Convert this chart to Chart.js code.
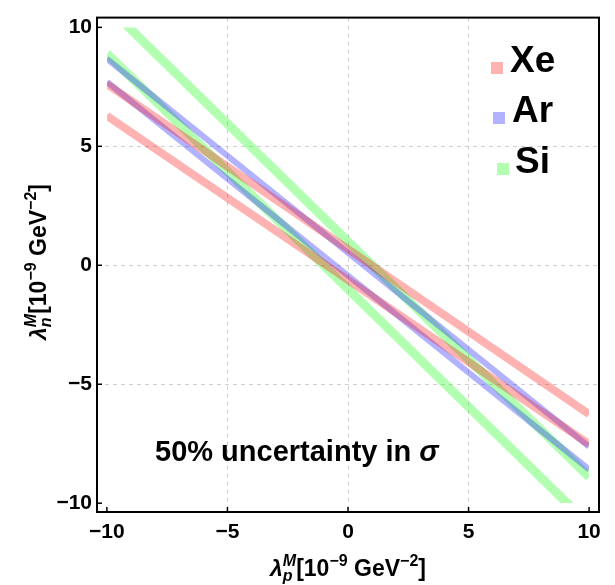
<!DOCTYPE html>
<html>
<head>
<meta charset="utf-8">
<script src="https://cdn.jsdelivr.net/npm/chart.js@4.4.1/dist/chart.umd.min.js"></script>
<style>
  html, body { margin: 0; padding: 0; background: #fff; }
  #wrap { width: 615px; height: 585px; }
</style>
</head>
<body>
<div id="wrap"><canvas id="c" width="615" height="585"></canvas></div>
<script>
// ---- data (lambda_n at lambda_p = -10 and +10) ----
const lambdaP = [-10, 10];
const xeUpper = [7.62, -6.26];
const xeLower = [6.28, -7.52];
const arUpper = [8.68, -7.62];
const arLower = [7.71, -8.58];
const siUpper = [10.9, -8.9];
const siLower = [8.9, -10.9];
const elements = ['Xe', 'Ar', 'Si'];
const tickValues = [-10, -5, 0, 5, 10];
const tickLabels = ['\u221210', '\u22125', '0', '5', '10'];
const annotationText = '50% uncertainty in ';
const annotationSymbol = '\u03C3';

const FONT = '"Liberation Sans", Arial, Helvetica, sans-serif';
const colors = {
  Xe: 'rgba(255,0,0,0.3)',
  Ar: 'rgba(0,0,255,0.3)',
  Si: 'rgba(0,255,0,0.3)'
};
const widths = { Xe: 8, Ar: 6, Si: 9 };

function pts(ys) { return lambdaP.map((x, i) => ({ x: x, y: ys[i] })); }
function band(el, ys) {
  return {
    label: el,
    data: pts(ys),
    borderColor: colors[el],
    backgroundColor: colors[el],
    borderWidth: widths[el],
    borderCapStyle: 'butt',
    pointRadius: 0,
    fill: false,
    tension: 0,
    clip: { left: -10, right: -10, top: -10, bottom: -9 }
  };
}

const datasets = [
  band('Xe', xeUpper), band('Xe', xeLower),
  band('Ar', arUpper), band('Ar', arLower),
  band('Si', siUpper), band('Si', siLower)
];

function drawRich(ctx, x, y, segs, size) {
  const sub = Math.round(size * 0.68);
  let total = 0;
  const m = segs.map(s => {
    if (s.stack) {
      ctx.font = `italic bold ${sub}px ${FONT}`;
      const w = Math.max(ctx.measureText(s.sup).width, ctx.measureText(s.sub).width);
      total += w; return w;
    }
    ctx.font = `${s.italic ? 'italic ' : ''}bold ${s.sup ? sub : size}px ${FONT}`;
    const w = ctx.measureText(s.t).width;
    total += w; return w;
  });
  let cx = x - total / 2;
  ctx.textBaseline = 'alphabetic';
  ctx.textAlign = 'left';
  segs.forEach((s, i) => {
    if (s.stack) {
      ctx.font = `italic bold ${sub}px ${FONT}`;
      ctx.fillText(s.sup, cx, y - size * 0.42);
      ctx.fillText(s.sub, cx, y + size * 0.22);
    } else {
      ctx.font = `${s.italic ? 'italic ' : ''}bold ${s.sup ? sub : size}px ${FONT}`;
      ctx.fillText(s.t, cx, s.sup ? y - size * 0.42 : y);
    }
    cx += m[i];
  });
}

const decor = {
  id: 'decor',
  afterDraw(chart) {
    const ctx = chart.ctx;
    const a = chart.chartArea;
    const xs = chart.scales.x, ys = chart.scales.y;
    ctx.save();
    ctx.strokeStyle = '#000';
    ctx.lineWidth = 2;
    ctx.strokeRect(a.left, a.top, a.right - a.left, a.bottom - a.top);
    ctx.lineWidth = 1.5;
    tickValues.forEach(v => {
      const px = xs.getPixelForValue(v);
      ctx.beginPath(); ctx.moveTo(px, a.bottom); ctx.lineTo(px, a.bottom - 5); ctx.stroke();
      const py = ys.getPixelForValue(v);
      ctx.beginPath(); ctx.moveTo(a.left, py); ctx.lineTo(a.left + 5, py); ctx.stroke();
    });
    const legPos = [
      { sx: 491, sy: 62, tx: 510, ty: 72 },
      { sx: 493, sy: 112, tx: 512, ty: 122 },
      { sx: 497, sy: 163, tx: 515, ty: 173 }
    ];
    elements.forEach((el, i) => {
      const p = legPos[i];
      ctx.fillStyle = colors[el];
      ctx.fillRect(p.sx, p.sy, 12, 12);
      ctx.fillStyle = '#000';
      ctx.font = `bold 37px ${FONT}`;
      ctx.textAlign = 'left';
      ctx.textBaseline = 'alphabetic';
      ctx.fillText(el, p.tx, p.ty);
    });
    ctx.fillStyle = '#000';
    ctx.font = `bold 29px ${FONT}`;
    ctx.textAlign = 'left';
    ctx.textBaseline = 'alphabetic';
    ctx.fillText(annotationText, 155, 461);
    const w0 = ctx.measureText(annotationText).width;
    ctx.font = `italic bold 29px ${FONT}`;
    ctx.fillText(annotationSymbol, 155 + w0, 461);
    const segsX = [
      { t: '\u03BB', italic: true }, { stack: true, sup: 'M', sub: 'p' },
      { t: '[10' }, { t: '\u22129', sup: true }, { t: ' GeV' }, { t: '\u22122', sup: true }, { t: ']' }
    ];
    drawRich(ctx, 348, 576, segsX, 23);
    const segsY = [
      { t: '\u03BB', italic: true }, { stack: true, sup: 'M', sub: 'n' },
      { t: '[10' }, { t: '\u22129', sup: true }, { t: ' GeV' }, { t: '\u22122', sup: true }, { t: ']' }
    ];
    ctx.translate(46, 262);
    ctx.rotate(-Math.PI / 2);
    drawRich(ctx, 0, 0, segsY, 23);
    ctx.restore();
  }
};

function gridColor(c) {
  const v = c.tick ? c.tick.value : 0;
  return Math.abs(v) === 10 ? 'rgba(0,0,0,0)' : '#cfcfcf';
}

new Chart(document.getElementById('c'), {
  type: 'line',
  data: { datasets: datasets },
  options: {
    responsive: false,
    devicePixelRatio: 1,
    animation: false,
    layout: { padding: { top: 9, right: 16, left: 0, bottom: 0 } },
    plugins: { legend: { display: false }, tooltip: { enabled: false } },
    scales: {
      x: {
        type: 'linear',
        min: -10.41, max: 10.41,
        afterFit: s => { s.height = 73; },
        afterBuildTicks: s => { s.ticks = tickValues.map(v => ({ value: v })); },
        ticks: {
          callback: v => tickLabels[tickValues.indexOf(v)],
          font: { family: FONT, size: 21, weight: 'bold' },
          color: '#000', padding: 8, maxRotation: 0, autoSkip: false
        },
        grid: { color: gridColor, drawTicks: false, lineWidth: 1 },
        border: { display: false, dash: [4, 4] }
      },
      y: {
        type: 'linear',
        min: -10.37, max: 10.41,
        afterFit: s => { s.width = 97; },
        afterBuildTicks: s => { s.ticks = tickValues.map(v => ({ value: v })); },
        ticks: {
          callback: v => tickLabels[tickValues.indexOf(v)],
          font: { family: FONT, size: 21, weight: 'bold' },
          color: '#000', padding: 5, autoSkip: false
        },
        grid: { color: gridColor, drawTicks: false, lineWidth: 1 },
        border: { display: false, dash: [4, 4] }
      }
    }
  },
  plugins: [decor]
});
</script>
</body>
</html>
